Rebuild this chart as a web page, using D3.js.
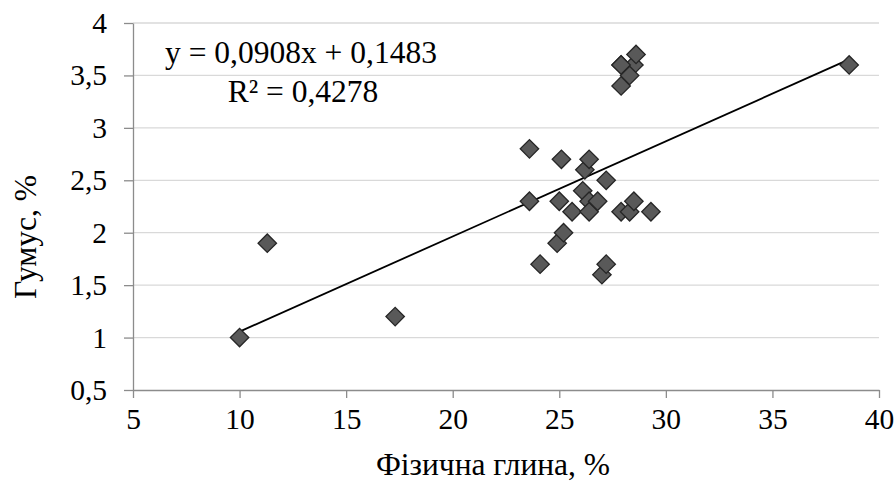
<!DOCTYPE html>
<html>
<head>
<meta charset="utf-8">
<script src="https://cdn.jsdelivr.net/npm/d3@7"></script>
<style>
  html, body { margin: 0; padding: 0; background: #fff; }
  svg text { font-family: "Liberation Serif", "Times New Roman", serif; fill: #000; }
</style>
</head>
<body>
<svg id="chart" width="896" height="483"></svg>
<script>
// Physical clay content (%) vs humus content (%)
const clay = [10, 11.3, 17.3, 23.6, 23.6, 24.1, 24.9, 25.0, 25.1, 25.2, 25.6,
              26.1, 26.2, 26.4, 26.4, 26.4, 26.8, 27.0, 27.2, 27.2, 27.9, 28.3,
              28.5, 29.3, 27.9, 28.5, 28.6, 27.9, 28.3, 27.9, 38.6];
const humus = [1.0, 1.9, 1.2, 2.8, 2.3, 1.7, 1.9, 2.3, 2.7, 2.0, 2.2,
               2.4, 2.6, 2.7, 2.3, 2.2, 2.3, 1.6, 1.7, 2.5, 2.2, 2.2,
               2.3, 2.2, 3.6, 3.6, 3.7, 3.4, 3.5, 3.6, 3.6];

// Linear trendline coefficients and label text
const slope = 0.0908;
const intercept = 0.1483;
const eqLabel = "y = 0,0908x + 0,1483";
const r2Label = "R² = 0,4278";

const xTicks = [5, 10, 15, 20, 25, 30, 35, 40];
const yTicks = [0.5, 1, 1.5, 2, 2.5, 3, 3.5, 4];
const xTitle = "Фізична глина, %";
const yTitle = "Гумус, %";

const svg = d3.select("#chart");
const plotLeft = 133, plotRight = 879, plotTop = 23, plotBottom = 390;

const x = d3.scaleLinear().domain([5, 40]).range([plotLeft, plotRight]);
const y = d3.scaleLinear().domain([0.5, 4]).range([plotBottom, plotTop]);
const fmt = d => String(d).replace(".", ",");

// horizontal gridlines
svg.append("g")
  .selectAll("line")
  .data(yTicks.filter(d => d > 0.5))
  .join("line")
  .attr("x1", plotLeft).attr("x2", plotRight)
  .attr("y1", d => y(d)).attr("y2", d => y(d))
  .attr("stroke", "#d9d9d9").attr("stroke-width", 1.3);

// axes
const xAxis = svg.append("g")
  .attr("transform", `translate(0,${plotBottom})`)
  .call(d3.axisBottom(x).tickValues(xTicks).tickFormat(fmt).tickSizeInner(8).tickSizeOuter(0).tickPadding(10));
const yAxis = svg.append("g")
  .attr("transform", `translate(${plotLeft},0)`)
  .call(d3.axisLeft(y).tickValues(yTicks).tickFormat(fmt).tickSizeInner(9).tickSizeOuter(0).tickPadding(17));

[xAxis, yAxis].forEach(g => {
  g.select(".domain").attr("stroke", "#8c8c8c").attr("stroke-width", 1.3);
  g.selectAll(".tick line").attr("stroke", "#8c8c8c").attr("stroke-width", 1.3);
  g.selectAll(".tick text")
    .attr("fill", "#000")
    .style("font-family", '"Liberation Serif", "Times New Roman", serif')
    .style("font-size", "29.5px");
});
xAxis.selectAll(".tick text").attr("dy", "0.71em");

// trendline over the data range
const xr = d3.extent(clay);
svg.append("line")
  .attr("x1", x(xr[0])).attr("y1", y(slope * xr[0] + intercept))
  .attr("x2", x(xr[1])).attr("y2", y(slope * xr[1] + intercept))
  .attr("stroke", "#000").attr("stroke-width", 1.8);

// diamond markers
const diamond = d3.symbol().type(d3.symbolSquare).size(170);
svg.append("g")
  .selectAll("path")
  .data(clay.map((c, i) => [c, humus[i]]))
  .join("path")
  .attr("d", diamond)
  .attr("transform", d => `translate(${x(d[0])},${y(d[1])}) rotate(45)`)
  .attr("fill", "#595959")
  .attr("stroke", "#262626")
  .attr("stroke-width", 1.3);

// trendline equation
svg.append("text")
  .attr("x", 301).attr("y", 63)
  .attr("text-anchor", "middle")
  .style("font-size", "31.5px")
  .text(eqLabel);
svg.append("text")
  .attr("x", 303).attr("y", 102)
  .attr("text-anchor", "middle")
  .style("font-size", "31.5px")
  .text(r2Label);

// axis titles
svg.append("text")
  .attr("x", 493).attr("y", 475)
  .attr("text-anchor", "middle")
  .style("font-size", "31.5px")
  .text(xTitle);
svg.append("text")
  .attr("transform", "translate(36,237) rotate(-90)")
  .attr("text-anchor", "middle")
  .style("font-size", "31.5px")
  .text(yTitle);
</script>
</body>
</html>
